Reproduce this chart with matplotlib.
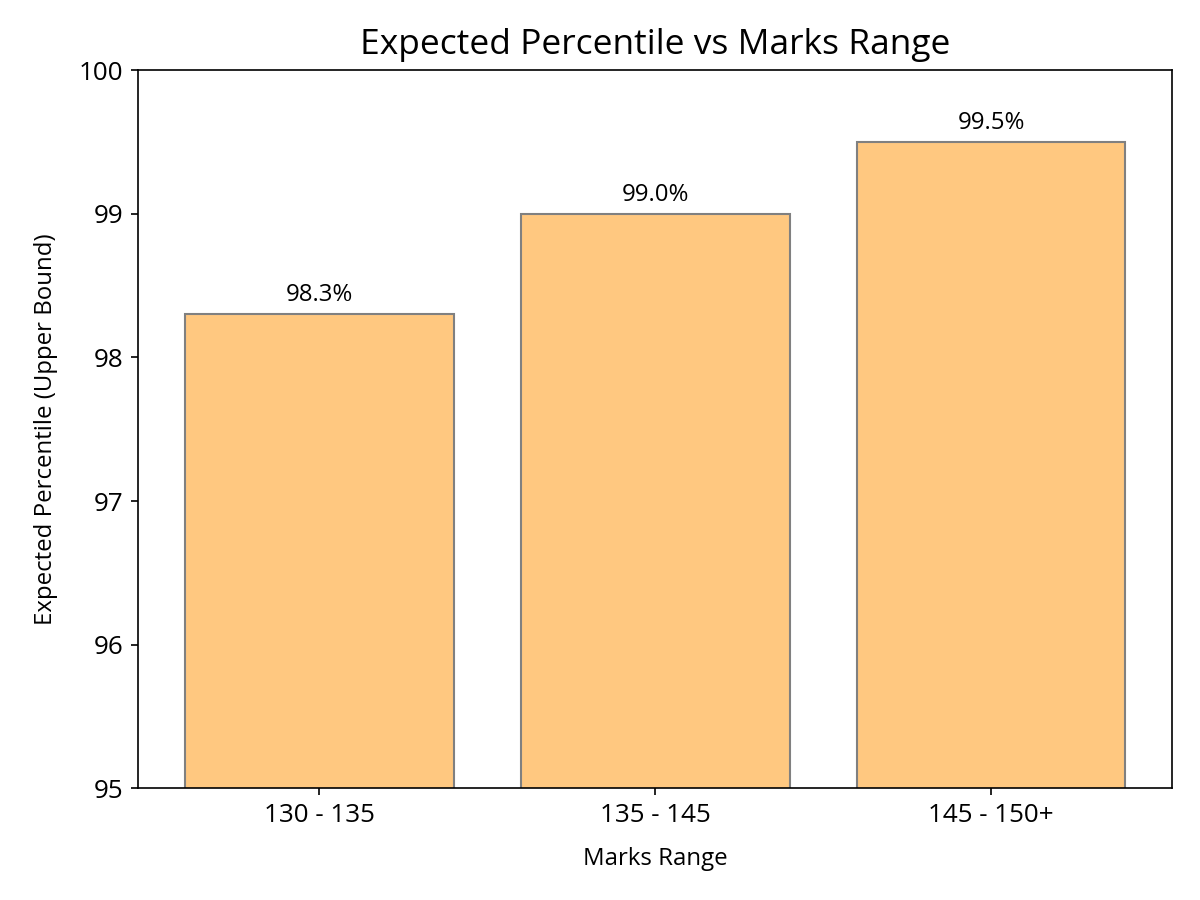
import matplotlib
matplotlib.use('Agg')
import matplotlib.pyplot as plt

plt.rcParams['font.family'] = ['Open Sans', 'DejaVu Sans']

rangos = ['130 - 135', '135 - 145', '145 - 150+']
percentiles = [98.3, 99.0, 99.5]

fig, ax = plt.subplots(figsize=(8, 6), dpi=150)
barras = ax.bar(rangos, percentiles, color='#FFC880', edgecolor='gray', width=0.8)

for barra, valor in zip(barras, percentiles):
    ax.text(barra.get_x() + barra.get_width() / 2, valor + 0.05, f'{valor:.1f}%',
            ha='center', va='bottom', fontsize=11.5)

ax.set_ylim(95, 100)
ax.set_title('Expected Percentile vs Marks Range', fontsize=17, pad=8)
ax.set_xlabel('Marks Range', fontsize=11.5, labelpad=9)
ax.set_ylabel('Expected Percentile (Upper Bound)', fontsize=11.5, labelpad=10)
ax.tick_params(axis='both', labelsize=12.5)

plt.subplots_adjust(left=0.115, right=0.977, top=0.922, bottom=0.124)
plt.savefig('out.png')
